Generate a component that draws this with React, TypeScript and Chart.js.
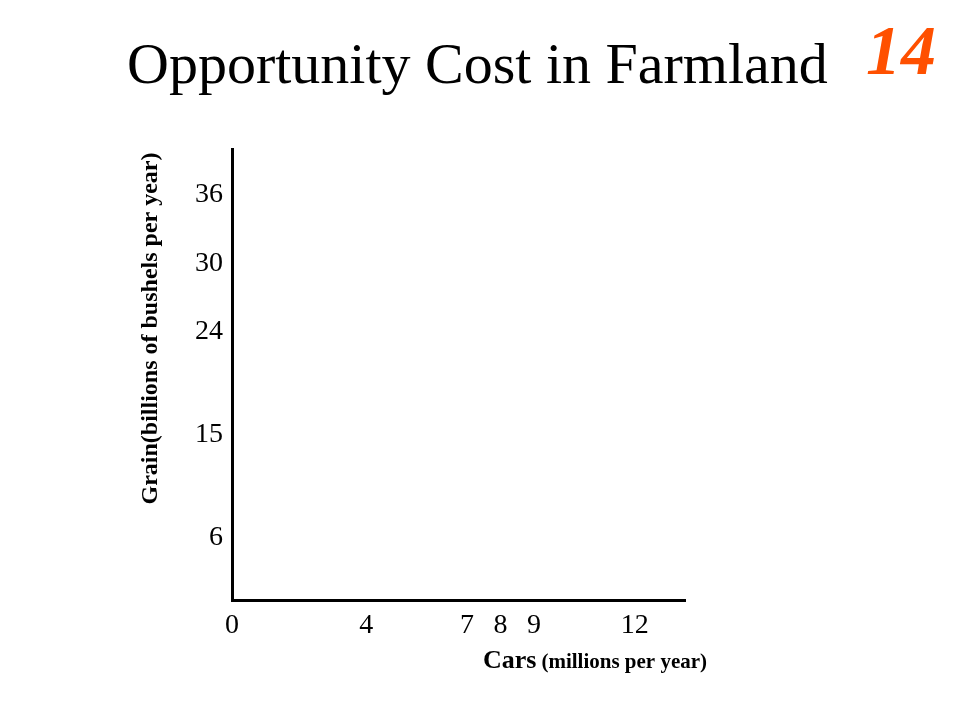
import React, { useEffect, useRef } from "react";
import { Chart, registerables } from "chart.js";

Chart.register(...registerables);

// ---- data ----
const chartTitle = "Opportunity Cost in Farmland";
const slideNumber = "14";
const xTickValues = [0, 4, 7, 8, 9, 12];
const yTickValues = [6, 15, 24, 30, 36];
const xAxisTitleMain = "Cars";
const xAxisTitleSub = "(millions per year)";
const yAxisTitle = "Grain(billions of bushels per year)";
const seriesPoints: { x: number; y: number }[] = [];

const SERIF = '"Liberation Serif", "Times New Roman", serif';

const textPlugin = {
  id: "slideTexts",
  afterDraw(chart: any) {
    const ctx = chart.ctx as CanvasRenderingContext2D;
    ctx.save();
    ctx.fillStyle = "#000";
    ctx.textBaseline = "alphabetic";
    // main title
    ctx.font = `58px ${SERIF}`;
    ctx.textAlign = "left";
    ctx.fillText(chartTitle, 127, 83);
    // slide number
    ctx.font = `italic bold 70px ${SERIF}`;
    ctx.fillStyle = "#FF5000";
    ctx.fillText(slideNumber, 866, 74);
    // x axis title
    ctx.fillStyle = "#000";
    ctx.font = `bold 26px ${SERIF}`;
    ctx.fillText(xAxisTitleMain, 483, 668);
    const w = ctx.measureText(xAxisTitleMain).width;
    ctx.font = `bold 21px ${SERIF}`;
    ctx.fillText(xAxisTitleSub, 483 + w + 5, 668);
    // y axis title
    ctx.translate(157, 328.5);
    ctx.rotate(-Math.PI / 2);
    ctx.font = `bold 24px ${SERIF}`;
    ctx.textAlign = "center";
    ctx.fillText(yAxisTitle, 0, 0);
    ctx.restore();
  },
};

export default function App() {
  const ref = useRef<HTMLCanvasElement | null>(null);

  useEffect(() => {
    if (!ref.current) return;
    const chart = new Chart(ref.current, {
      type: "scatter",
      data: {
        datasets: [
          {
            data: seriesPoints,
            pointRadius: 0,
            borderColor: "#000",
            backgroundColor: "#000",
          },
        ],
      },
      options: {
        responsive: false,
        animation: false,
        devicePixelRatio: 1,
        layout: { padding: { top: 149, right: 275, left: 0, bottom: 0 } },
        plugins: {
          legend: { display: false },
          tooltip: { enabled: false },
          title: { display: false },
        },
        scales: {
          x: {
            type: "linear",
            min: 0,
            max: 13.5,
            grid: { display: false, drawTicks: false, tickLength: 0 },
            border: { display: true, color: "#000", width: 3 },
            afterBuildTicks: (axis: any) => {
              axis.ticks = xTickValues.map((v) => ({ value: v }));
            },
            afterFit: (s: any) => {
              s.height = 120;
            },
            ticks: {
              autoSkip: false,
              maxRotation: 0,
              padding: 9,
              color: "#000",
              font: { family: SERIF, size: 28 },
            },
          },
          y: {
            type: "linear",
            min: 0.5,
            max: 40,
            grid: { display: false, drawTicks: false, tickLength: 0 },
            border: { display: true, color: "#000", width: 3 },
            afterBuildTicks: (axis: any) => {
              axis.ticks = yTickValues.map((v) => ({ value: v }));
            },
            afterFit: (s: any) => {
              s.width = 232;
            },
            ticks: {
              autoSkip: false,
              padding: 9,
              color: "#000",
              font: { family: SERIF, size: 28 },
            },
          },
        },
      },
      plugins: [textPlugin],
    });
    return () => chart.destroy();
  }, []);

  return (
    <div style={{ position: "absolute", left: 0, top: 0, width: 960, height: 720, background: "#fff" }}>
      <canvas ref={ref} width={960} height={720} style={{ width: 960, height: 720, display: "block" }} />
    </div>
  );
}
